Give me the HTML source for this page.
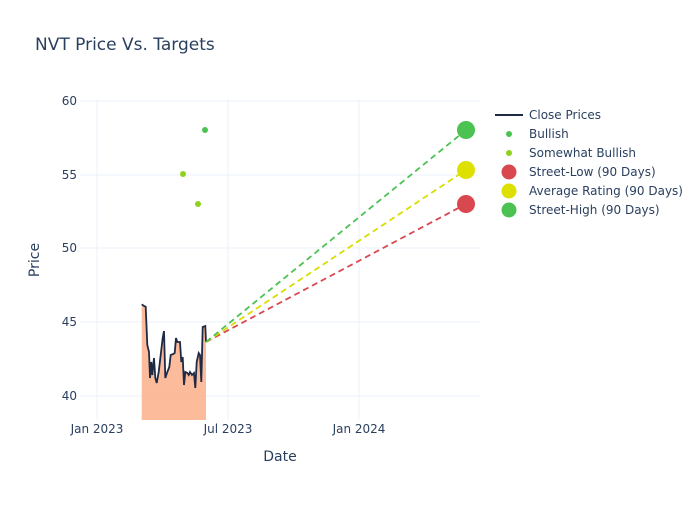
<!DOCTYPE html><html><head><style>body{margin:0;background:#fff}svg{font-family:"DejaVu Sans","Liberation Sans",sans-serif}</style></head><body>
<svg width="700" height="500" viewBox="0 0 700 500">
<rect width="700" height="500" fill="#fff"/>
<text x="35" y="50" font-size="17" fill="#2a3f5f">NVT Price Vs. Targets</text>
<g stroke="#ebf0f8" stroke-width="1">
<line x1="80" x2="480" y1="101" y2="101"/><line x1="80" x2="480" y1="175" y2="175"/><line x1="80" x2="480" y1="248" y2="248"/><line x1="80" x2="480" y1="322" y2="322"/><line x1="80" x2="480" y1="396" y2="396"/>
<line x1="97" x2="97" y1="100" y2="420"/><line x1="228" x2="228" y1="100" y2="420"/><line x1="359" x2="359" y1="100" y2="420"/>
</g>
<g font-size="12" fill="#2a3f5f" text-anchor="end">
<text x="77" y="105">60</text><text x="77" y="179">55</text><text x="77" y="252">50</text><text x="77" y="326">45</text><text x="77" y="400">40</text></g>
<g font-size="12" fill="#2a3f5f" text-anchor="middle">
<text x="97" y="433">Jan 2023</text><text x="228" y="433">Jul 2023</text><text x="359" y="433">Jan 2024</text>
<text x="280" y="461" font-size="14">Date</text></g>
<text transform="translate(39,260) rotate(-90)" font-size="14" fill="#2a3f5f" text-anchor="middle">Price</text>
<polygon fill="#fcb48f" fill-opacity="0.9" points="141.7,420 141.7,304.3 144,306 145.7,306.7 147.3,345 149,352 150,378 151.3,362 152.3,375 154,358 155.3,378 156.7,383 158.7,372 160.7,355 162.7,338 164,331 165.3,378 167.3,372 169.3,367 170.7,355 173.3,354 174.7,353 176,338 177.3,342 180,342 181.3,362 182.7,357 184,385 185.3,372 187.3,373 188.7,375 190,372 192,375 194,373 195.3,388 196.7,362 198.7,353 200,355 201.3,382 202.7,327 205.3,326 206,342 206,420"/>
<polyline fill="none" stroke="#1f2a44" stroke-width="1.8" points="141.7,304.3 144,306 145.7,306.7 147.3,345 149,352 150,378 151.3,362 152.3,375 154,358 155.3,378 156.7,383 158.7,372 160.7,355 162.7,338 164,331 165.3,378 167.3,372 169.3,367 170.7,355 173.3,354 174.7,353 176,338 177.3,342 180,342 181.3,362 182.7,357 184,385 185.3,372 187.3,373 188.7,375 190,372 192,375 194,373 195.3,388 196.7,362 198.7,353 200,355 201.3,382 202.7,327 205.3,326 206,342"/>
<g stroke-width="1.8" stroke-dasharray="6,4" fill="none">
<line x1="206" y1="342" x2="466" y2="204" stroke="#d9474f"/>
<line x1="206" y1="342" x2="466" y2="170" stroke="#d8de00"/>
<line x1="206" y1="342" x2="466" y2="130" stroke="#4cc253"/></g>
<circle cx="205" cy="130" r="3" fill="#4cc253"/>
<circle cx="183" cy="174" r="3" fill="#8fd21c"/><circle cx="198" cy="204" r="3" fill="#8fd21c"/>
<circle cx="466" cy="204" r="9" fill="#d9474f"/><circle cx="466" cy="170" r="9" fill="#dde000"/><circle cx="466" cy="130" r="9" fill="#4cc253"/>
<g font-size="12" fill="#2a3f5f">
<line x1="495" x2="523" y1="115" y2="115" stroke="#1f2a44" stroke-width="2"/><text x="529" y="119">Close Prices</text>
<circle cx="509" cy="134" r="3" fill="#4cc253"/><text x="529" y="138">Bullish</text>
<circle cx="509" cy="153" r="3" fill="#8fd21c"/><text x="529" y="157">Somewhat Bullish</text>
<circle cx="509" cy="172" r="7.5" fill="#d9474f"/><text x="529" y="176">Street-Low (90 Days)</text>
<circle cx="509" cy="191" r="7.5" fill="#dde000"/><text x="529" y="195">Average Rating (90 Days)</text>
<circle cx="509" cy="210" r="7.5" fill="#4cc253"/><text x="529" y="214">Street-High (90 Days)</text>
</g>
</svg></body></html>
